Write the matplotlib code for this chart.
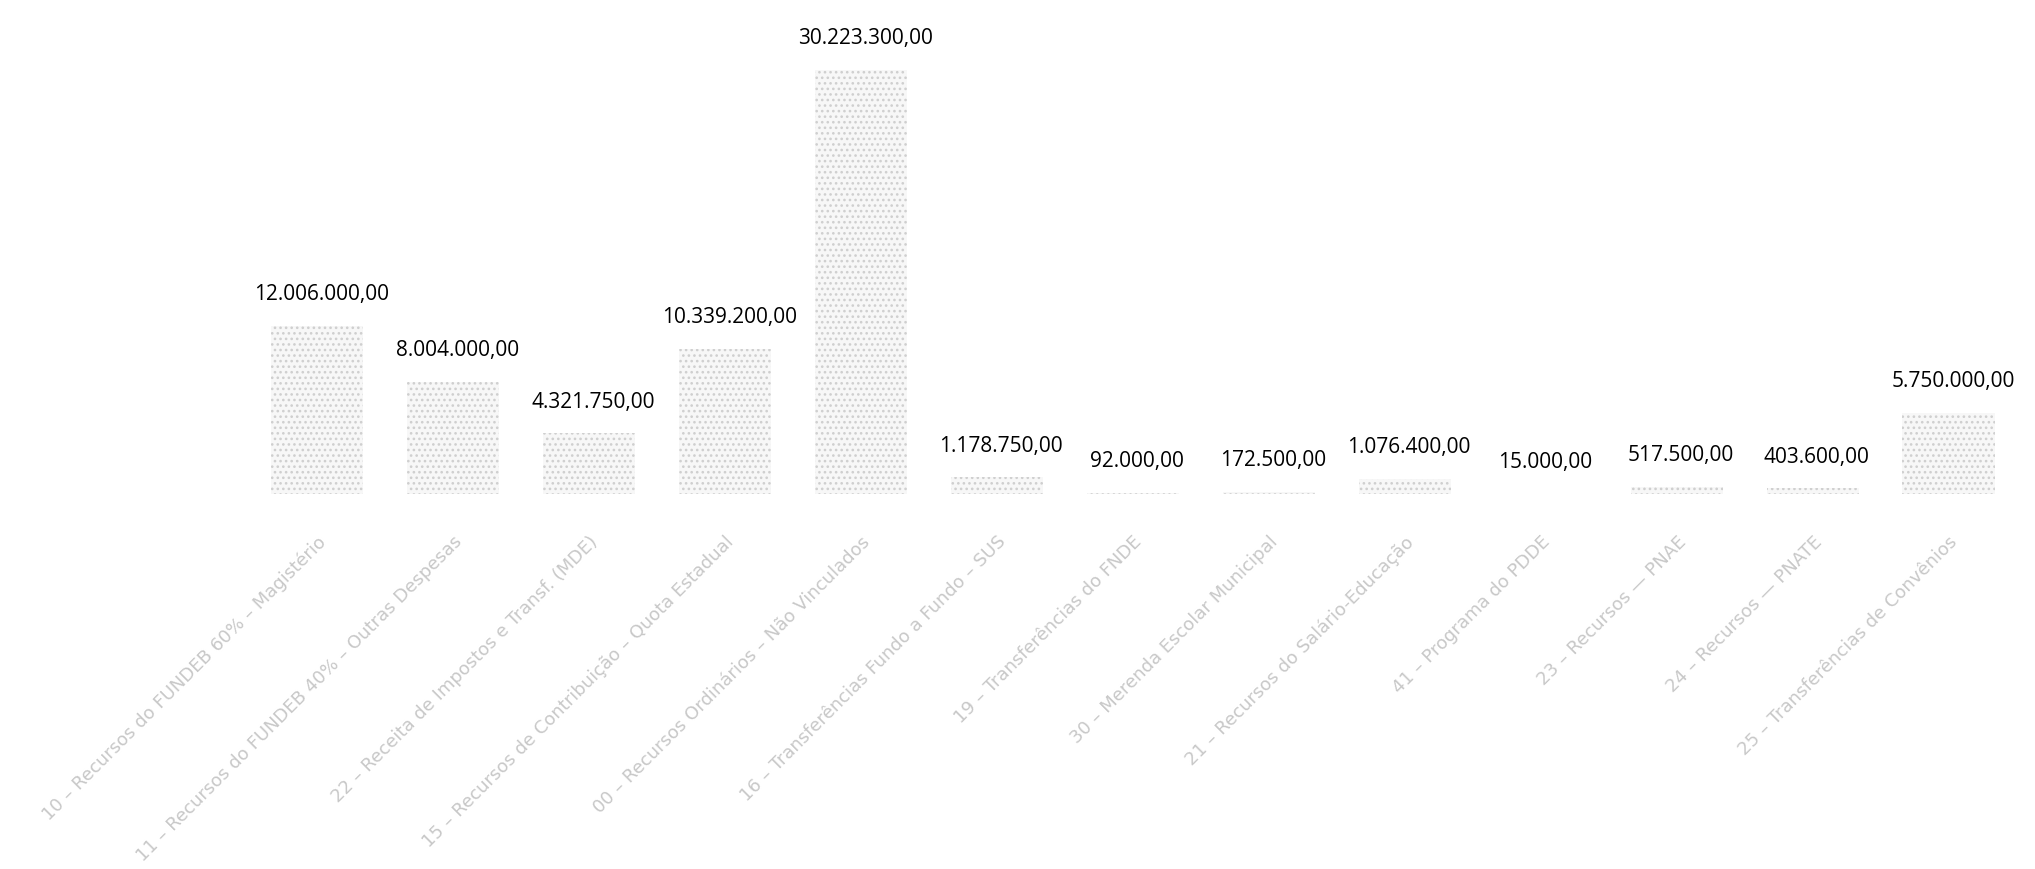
import matplotlib
matplotlib.use("Agg")
import matplotlib.pyplot as plt

# fontes de recurso e valores orçados (R$)
fontes = [
    "10 – Recursos do FUNDEB 60% – Magistério",
    "11 – Recursos do FUNDEB 40% – Outras Despesas",
    "22 – Receita de Impostos e Transf. (MDE)",
    "15 – Recursos de Contribuição – Quota Estadual",
    "00 – Recursos Ordinários – Não Vinculados",
    "16 – Transferências Fundo a Fundo – SUS",
    "19 – Transferências do FNDE",
    "30 – Merenda Escolar Municipal",
    "21 – Recursos do Salário-Educação",
    "41 – Programa do PDDE",
    "23 – Recursos — PNAE",
    "24 – Recursos — PNATE",
    "25 – Transferências de Convênios",
]
valores = [
    12006000.00, 8004000.00, 4321750.00, 10339200.00, 30223300.00,
    1178750.00, 92000.00, 172500.00, 1076400.00, 15000.00,
    517500.00, 403600.00, 5750000.00,
]


def fmt_brl(v):
    s = f"{v:,.2f}"
    return s.replace(",", "X").replace(".", ",").replace("X", ".")


plt.rcParams["hatch.linewidth"] = 1.1
plt.rcParams["hatch.color"] = "#c9c9c9"

fig = plt.figure(figsize=(20.35, 8.69), dpi=100)
ax = fig.add_axes([0.1224, 0.4315, 0.8686, 0.5685])

x = list(range(len(valores)))
barras = ax.bar(x, valores, width=0.68, color="#f7f7f7", edgecolor="#cfcfcf",
                linewidth=0, hatch="...")

for xi, v in zip(x, valores):
    ax.annotate(fmt_brl(v), (xi, v), xytext=(3, 15), textcoords="offset points",
                ha="center", va="bottom", fontsize=15, family="Open Sans",
                color="black")

ax.set_xlim(-0.5, len(valores) - 0.5)
ax.set_ylim(0, 35.2e6)
ax.set_xticks(x)
ax.set_xticklabels(fontes, rotation=45, ha="right", rotation_mode="anchor",
                   fontsize=13, color="#c8c8c8")
ax.tick_params(axis="x", length=0, pad=28)
ax.set_yticks([])
for sp in ax.spines.values():
    sp.set_visible(False)

fig.savefig("out.png", dpi=100, facecolor="white")
